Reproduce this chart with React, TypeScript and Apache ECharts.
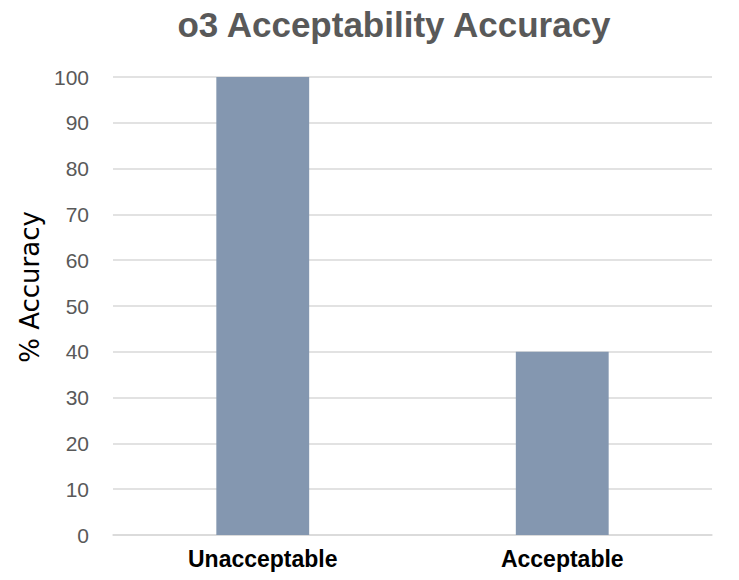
import React, { useEffect, useRef } from "react";
import * as echarts from "echarts";

const TITLE = "o3 Acceptability Accuracy";
const Y_NAME = "% Accuracy";
const categories = ["Unacceptable", "Acceptable"];
const accuracy = [100, 40];
const yMin = 0;
const yMax = 100;
const yStep = 10;

export default function App() {
  const ref = useRef<HTMLDivElement>(null);
  useEffect(() => {
    if (!ref.current) return;
    const chart = echarts.init(ref.current, null, { renderer: "svg" });
    chart.setOption({
      animation: false,
      backgroundColor: "#ffffff",
      title: {
        text: TITLE,
        left: 389,
        textAlign: "center",
        top: 2,
        textStyle: {
          fontFamily: "Liberation Sans, Arial, sans-serif",
          fontWeight: "bold",
          fontSize: 35,
          color: "#595959",
        },
      },
      grid: { left: 113, right: 27, top: 77, bottom: 45, containLabel: false },
      xAxis: {
        type: "category",
        data: categories,
        axisLine: { show: true, lineStyle: { color: "#d9d9d9", width: 1.5 } },
        axisTick: { show: false },
        axisLabel: {
          margin: 12,
          fontFamily: "Liberation Sans, Arial, sans-serif",
          fontWeight: "bold",
          fontSize: 23,
          color: "#000000",
        },
      },
      yAxis: {
        type: "value",
        min: yMin,
        max: yMax,
        interval: yStep,
        name: Y_NAME,
        nameLocation: "middle",
        nameRotate: 90,
        nameGap: 70,
        nameTextStyle: {
          fontFamily: "DejaVu Sans, sans-serif",
          fontSize: 26,
          color: "#000000",
          padding: [0, 0, 0, 38],
        },
        axisLine: { show: false },
        axisTick: { show: false },
        axisLabel: {
          margin: 24,
          fontFamily: "Liberation Sans, Arial, sans-serif",
          fontSize: 21,
          color: "#595959",
        },
        splitLine: { lineStyle: { color: "#d9d9d9", width: 1.5 } },
      },
      series: [
        {
          type: "bar",
          data: accuracy,
          barCategoryGap: "69%",
          itemStyle: { color: "#8497b0" },
        },
      ],
    });
    return () => chart.dispose();
  }, []);
  return (
    <div
      ref={ref}
      style={{ position: "absolute", left: 0, top: 0, width: 739, height: 580 }}
    />
  );
}
